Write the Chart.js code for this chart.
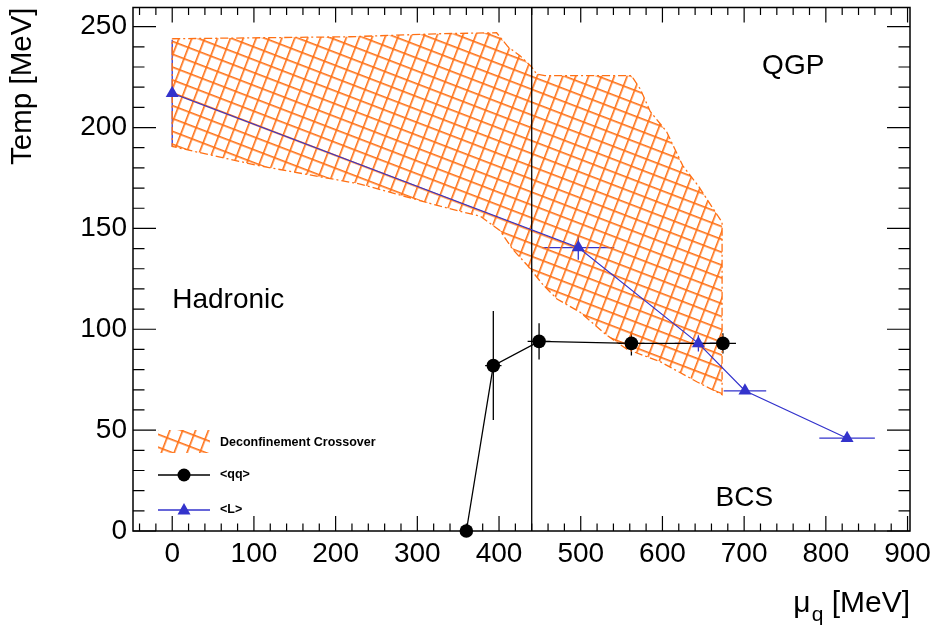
<!DOCTYPE html>
<html>
<head>
<meta charset="utf-8">
<script src="https://cdn.jsdelivr.net/npm/chart.js@4.4.1/dist/chart.umd.min.js"></script>
<style>
  html, body { margin: 0; padding: 0; background: #fff; }
  #wrap { width: 944px; height: 630px; position: relative; }
</style>
</head>
<body>
<div id="wrap"><canvas id="c" width="944" height="630"></canvas></div>
<script>
// tick labels
const X_TICKS = [0, 100, 200, 300, 400, 500, 600, 700, 800, 900]
const Y_TICKS = [0, 50, 100, 150, 200, 250]

// deconfinement crossover band (closed polygon, mu_q / Temp)
const CROSS_X = [0, 217, 328, 397, 411, 426, 440, 446, 456, 562, 573, 585, 605, 625, 644, 673,
                 673, 642, 597, 557, 532, 499, 471, 454, 434, 417, 401, 377, 328, 230, 107, 0]
const CROSS_T = [244, 245, 246.5, 247, 240, 235.5, 230, 226.5, 225.7, 225.7, 219, 208, 198, 181, 171, 153,
                 67.6, 74, 84, 90, 97, 108.5, 115, 122, 132, 139.5, 149, 156, 161, 172, 181, 190.6]

// <qq> points
const QQ_X = [360, 393, 449, 562, 674]
const QQ_T = [0, 82, 94, 93, 93]
const QQ_XERR = [0, 10, 14, 16, 16]
const QQ_TERR = [0, 27, 9, 6, 5]

// <L> points
const L_X = [0, 497, 644, 701, 826]
const L_T = [217, 140.5, 93, 69.5, 46]
const L_XERR = [0, 44, 29, 26, 34]
const L_TERR = [26.5, 6, 4, 1, 0]

// vertical line
const CUT_X = 440

const ORANGE = 'rgb(255,112,20)'
const BLUE = 'rgb(51,51,204)'
const FONT = '"Liberation Sans", Arial, Helvetica, sans-serif'

Chart.defaults.font.family = FONT
Chart.defaults.color = '#000'

const ctx = document.getElementById('c').getContext('2d')

const makeHatch = () => {
  const n = 12
  const tile = document.createElement('canvas')
  tile.width = n
  tile.height = n
  const g = tile.getContext('2d')
  g.fillStyle = ORANGE
  g.fillRect(0, 0, n, 1.6)
  g.fillRect(0, 0, 1.6, n)
  const p = ctx.createPattern(tile, 'repeat')
  p.setTransform(new DOMMatrix().rotateSelf(21))
  return p
}
const hatch = makeHatch()

const pts = (xs, ys) => xs.map((x, i) => ({ x, y: ys[i] }))
const crossPts = pts(CROSS_X, CROSS_T)
crossPts.push({ ...crossPts[0] })

// error bars, drawn through the scales
const errorBars = {
  id: 'errorBars',
  beforeDatasetsDraw(chart) {
    const { ctx, scales: { x, y } } = chart
    ctx.save()
    chart.data.datasets.forEach(ds => {
      if (!ds.xErr) return
      ctx.strokeStyle = ds.borderColor
      ctx.lineWidth = 1.3
      ds.data.forEach((p, i) => {
        const px = x.getPixelForValue(p.x), py = y.getPixelForValue(p.y)
        const ex = ds.xErr[i], ey = ds.yErr[i]
        ctx.beginPath()
        if (ex) {
          ctx.moveTo(x.getPixelForValue(p.x - ex), py)
          ctx.lineTo(x.getPixelForValue(p.x + ex), py)
        }
        if (ey) {
          ctx.moveTo(px, y.getPixelForValue(p.y - ey))
          ctx.lineTo(px, y.getPixelForValue(p.y + ey))
        }
        ctx.stroke()
      })
    })
    ctx.restore()
  }
}

// ROOT style frame, ticks, titles, texts and legend
const decor = {
  id: 'decor',
  afterDraw(chart) {
    const { ctx, chartArea: a, scales: { x, y } } = chart
    ctx.save()
    ctx.strokeStyle = '#000'
    ctx.lineWidth = 1.5
    ctx.strokeRect(a.left, a.top, a.right - a.left, a.bottom - a.top)

    ctx.beginPath()
    ctx.lineWidth = 1.2
    for (let v = -40; v <= 900; v += 20) {
      const px = x.getPixelForValue(v)
      const len = v % 100 === 0 ? 15 : 7.5
      ctx.moveTo(px, a.bottom); ctx.lineTo(px, a.bottom - len)
      ctx.moveTo(px, a.top); ctx.lineTo(px, a.top + len)
    }
    for (let v = 0; v <= 250; v += 10) {
      const py = y.getPixelForValue(v)
      const len = v % 50 === 0 ? 23 : 11.5
      ctx.moveTo(a.left, py); ctx.lineTo(a.left + len, py)
      ctx.moveTo(a.right, py); ctx.lineTo(a.right - len, py)
    }
    ctx.stroke()

    // axis titles
    ctx.fillStyle = '#000'
    ctx.textBaseline = 'alphabetic'
    ctx.font = '30px ' + FONT
    ctx.textAlign = 'right'
    ctx.fillText('[MeV]', a.right, 612)
    const w = ctx.measureText(' [MeV]').width
    ctx.font = '21px ' + FONT
    ctx.fillText('q', a.right - w, 621)
    const wq = ctx.measureText('q').width
    ctx.font = '30px ' + FONT
    ctx.fillText('\u03bc', a.right - w - wq - 1, 612)

    ctx.save()
    ctx.translate(31, a.top)
    ctx.rotate(-Math.PI / 2)
    ctx.textAlign = 'right'
    ctx.font = '29.5px ' + FONT
    ctx.fillText('Temp [MeV]', 0, 0)
    ctx.restore()

    // region labels
    ctx.font = '28px ' + FONT
    ctx.textAlign = 'left'
    ctx.fillText('QGP', x.getPixelForValue(722), y.getPixelForValue(226.5))
    ctx.fillText('Hadronic', x.getPixelForValue(0), y.getPixelForValue(110.5))
    ctx.fillText('BCS', x.getPixelForValue(665), y.getPixelForValue(12.5))

    // legend
    ctx.fillStyle = hatch
    ctx.fillRect(158, 430, 52, 23)
    ctx.fillStyle = '#000'
    ctx.font = 'bold 12.5px ' + FONT
    ctx.textBaseline = 'middle'
    ctx.fillText('Deconfinement Crossover', 220, 443)
    ctx.fillText('<qq>', 220, 475)
    ctx.fillText('<L>', 220, 510)

    ctx.lineWidth = 1.3
    ctx.strokeStyle = '#000'
    ctx.beginPath(); ctx.moveTo(158, 475); ctx.lineTo(210, 475); ctx.stroke()
    ctx.beginPath(); ctx.arc(184, 475, 6.5, 0, Math.PI * 2); ctx.fill()
    ctx.strokeStyle = BLUE
    ctx.fillStyle = BLUE
    ctx.beginPath(); ctx.moveTo(158, 510); ctx.lineTo(210, 510); ctx.stroke()
    ctx.beginPath()
    ctx.moveTo(184, 503); ctx.lineTo(190.5, 514.5); ctx.lineTo(177.5, 514.5); ctx.closePath()
    ctx.fill()
    ctx.restore()
  }
}

new Chart(ctx, {
  type: 'line',
  data: {
    datasets: [
      {
        label: '<L>',
        data: pts(L_X, L_T),
        xErr: L_XERR,
        yErr: L_TERR,
        borderColor: BLUE,
        backgroundColor: BLUE,
        borderWidth: 1.2,
        pointStyle: 'triangle',
        pointRadius: 7.5,
        pointBorderWidth: 0,
        tension: 0
      },
      {
        label: '<qq>',
        data: pts(QQ_X, QQ_T),
        xErr: QQ_XERR,
        yErr: QQ_TERR,
        borderColor: '#000',
        backgroundColor: '#000',
        borderWidth: 1.3,
        pointStyle: 'circle',
        pointRadius: 6.8,
        pointBorderWidth: 0,
        tension: 0,
        clip: false
      },
      {
        label: 'cut',
        data: [{ x: CUT_X, y: 0 }, { x: CUT_X, y: 260 }],
        borderColor: '#000',
        borderWidth: 1.3,
        pointRadius: 0
      },
      {
        label: 'Deconfinement Crossover',
        data: crossPts,
        borderColor: ORANGE,
        backgroundColor: hatch,
        borderWidth: 1.3,
        borderDash: [8, 3, 2, 3],
        pointRadius: 0,
        fill: 'shape',
        tension: 0
      }
    ]
  },
  options: {
    responsive: false,
    animation: false,
    events: [],
    layout: { padding: { top: 3, right: 34, left: 0, bottom: 0 } },
    plugins: {
      legend: { display: false },
      tooltip: { enabled: false },
      title: { display: false }
    },
    scales: {
      x: {
        type: 'linear',
        min: -48,
        max: 903,
        afterBuildTicks: s => { s.ticks = X_TICKS.map(v => ({ value: v })) },
        afterFit: s => { s.height = 99; s.paddingLeft = 0; s.paddingRight = 0 },
        grid: { display: false, drawTicks: false },
        border: { display: false },
        ticks: { font: { size: 28 }, color: '#000', padding: 6, maxRotation: 0, autoSkip: false }
      },
      y: {
        type: 'linear',
        min: 0,
        max: 259.5,
        afterBuildTicks: s => { s.ticks = Y_TICKS.map(v => ({ value: v })) },
        afterFit: s => { s.width = 133; s.paddingTop = 0; s.paddingBottom = 0 },
        grid: { display: false, drawTicks: false },
        border: { display: false },
        ticks: { font: { size: 28 }, color: '#000', padding: 6, autoSkip: false }
      }
    }
  },
  plugins: [errorBars, decor]
})
</script>
</body>
</html>
